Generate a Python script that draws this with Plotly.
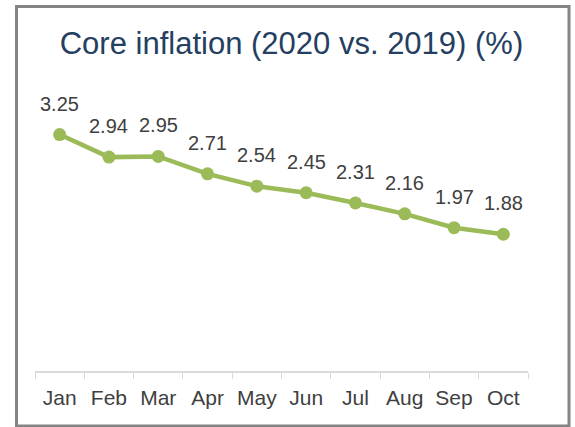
import plotly.graph_objects as go

months = ["Jan", "Feb", "Mar", "Apr", "May", "Jun", "Jul", "Aug", "Sep", "Oct"]
values = [3.25, 2.94, 2.95, 2.71, 2.54, 2.45, 2.31, 2.16, 1.97, 1.88]
title_text = "Core inflation (2020 vs. 2019) (%)"

W, H = 575, 427
ML, MR, MT, MB = 35, 47, 80, 56
pw, ph = W - ML - MR, H - MT - MB

fig = go.Figure()
fig.add_trace(go.Scatter(
    x=months, y=values, mode="lines+markers",
    line=dict(color="#9BBB59", width=4.5),
    marker=dict(color="#9BBB59", size=13),
    hoverinfo="skip", showlegend=False,
))
for m, v in zip(months, values):
    fig.add_annotation(x=m, y=v, text=f"{v:.2f}", showarrow=False,
                       yshift=31, font=dict(size=20, color="#404040"))

def px_x(p):
    return (p - ML) / pw

def px_y(p):
    return (H - MB - p) / ph

fig.add_shape(type="rect", xref="paper", yref="paper",
              x0=px_x(16.5), x1=px_x(569), y0=px_y(426), y1=px_y(6.5),
              line=dict(color="#848484", width=3), layer="below")

fig.update_layout(
    width=W, height=H,
    margin=dict(l=ML, r=MR, t=MT, b=MB),
    paper_bgcolor="white", plot_bgcolor="white",
    font=dict(family="Liberation Sans, Arial, sans-serif", color="#404040"),
    title=dict(text=title_text, x=291.5 / W, xanchor="center",
               y=1 - 43 / H, yanchor="middle", yref="container",
               font=dict(size=31, color="#243F60")),
    xaxis=dict(type="category", range=[-0.5, 9.5], showgrid=False,
               showline=True, linecolor="#D9D9D9", linewidth=1.5,
               ticks="outside", tickson="boundaries", ticklen=6,
               tickcolor="#D9D9D9", tickfont=dict(size=21, color="#404040"),
               ticklabelstandoff=7,
               zeroline=False, fixedrange=True),
    yaxis=dict(range=[0, 4], visible=False, showgrid=False, zeroline=False,
               fixedrange=True),
)

fig.write_html("out.html",
               config={"displayModeBar": False, "staticPlot": True},
               post_script="document.body.style.margin='0';"
                           "document.body.style.overflow='hidden';")
